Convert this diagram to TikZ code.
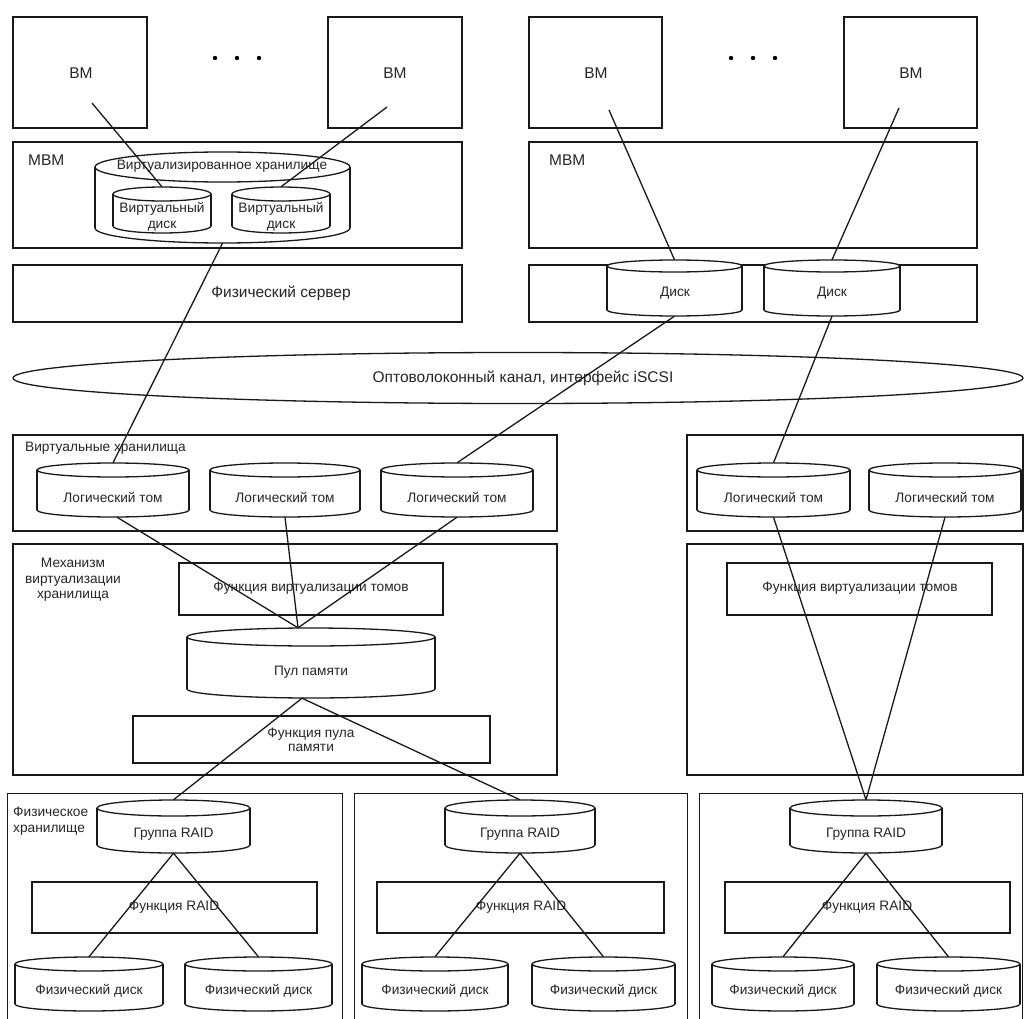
\documentclass[tikz,border=0pt]{standalone}
\usepackage{fontspec}
\setmainfont{Liberation Sans}
\usetikzlibrary{shapes.geometric,fit,calc}
\tikzset{
  ln/.style={line width=1.3pt, draw=black!90},
  boxn/.style={draw=black!90, line width=1.3pt, inner sep=0pt},
  lbl/.style={font=\fontsize{13.7}{15.5}\selectfont, align=center, inner sep=0pt, text=black!85},
  biglbl/.style={font=\fontsize{15.5}{17}\selectfont, inner sep=0pt, text=black!85},
}
% box: name, x1, y1, x2, y2
\newcommand\mybox[5]{\node[boxn, fit={(#2,#3) (#4,#5)}] (#1) {};}
% cylinder: name, x1, x2, ytop, ybot, ry, text
\newcommand\mycyl[7]{%
  \pgfmathsetmacro\cx{(#2+#3)/2}%
  \pgfmathsetmacro\rx{(#3-#2)/2}%
  \pgfmathsetmacro\yt{#4+#6}%
  \pgfmathsetmacro\yb{#5-#6}%
  \draw[ln, fill=white] (\cx,\yb) ellipse[x radius=\rx, y radius=#6];
  \fill[white] (#2,\yt) rectangle (#3,\yb);
  \draw[ln] (#2,\yt) -- (#2,\yb) (#3,\yt) -- (#3,\yb);
  \draw[ln, fill=white] (\cx,\yt) ellipse[x radius=\rx, y radius=#6];
  \node[inner sep=0pt, fit={(#2,#4) (#3,#5)}] (#1) {};
  \node[lbl] (#1-t) at (\cx,{(#4+2*#6+#5)/2}) {#7};
}
\begin{document}
\begin{tikzpicture}[x=1pt, y=-1pt]
\useasboundingbox (0,0) rectangle (1025,1019);
\fill[white] (0,0) rectangle (1025,1019);

% ---------- top left ----------
\mybox{vm1}{13}{17}{147}{128}
\node[biglbl] (vm1-t) at (81,73) {ВМ};
\mybox{vm2}{328}{17}{462}{128}
\node[biglbl] (vm2-t) at (395,73) {ВМ};
\fill (215,58) circle[radius=2.2] (237,58) circle[radius=2.2] (259,58) circle[radius=2.2];
\mybox{mbm1}{13}{142}{462}{248}
\node[biglbl, anchor=west] (mbm1-t) at (28,160) {МВМ};
\mybox{srv1}{13}{265}{462}{322}
\node[biglbl] (srv1-t) at (281,293) {Физический сервер};
\mycyl{vst}{95}{350}{152}{243}{15}{}
\node[lbl] (vst-t2) at (222,166) {Виртуализированное хранилище};
\mycyl{vd1}{113}{211}{187}{233}{7}{Виртуальный\\диск}
\mycyl{vd2}{232}{330}{187}{233}{7}{Виртуальный\\диск}

% ---------- top right ----------
\mybox{vm3}{529}{17}{662}{128}
\node[biglbl] (vm3-t) at (596,73) {ВМ};
\mybox{vm4}{844}{17}{977}{128}
\node[biglbl] (vm4-t) at (911,73) {ВМ};
\fill (731,58) circle[radius=2.2] (753,58) circle[radius=2.2] (775,58) circle[radius=2.2];
\mybox{mbm2}{529}{142}{977}{248}
\node[biglbl, anchor=west] (mbm2-t) at (549,160) {МВМ};
\mybox{srv2}{529}{265}{977}{322}
\mycyl{dk1}{607}{742}{260}{316}{6}{}
\node[lbl] (dk1-t2) at (675,293) {Диск};
\mycyl{dk2}{764}{900}{260}{316}{6}{}
\node[lbl] (dk2-t2) at (832,293) {Диск};

% ---------- channel ----------
\node[draw=black!90, line width=1.3pt, ellipse, minimum width=1010, minimum height=51, inner sep=0pt] (fc) at (518,378) {};
\node[biglbl] (fc-t) at (523,378) {Оптоволоконный канал, интерфейс iSCSI};

% ---------- middle left ----------
\mybox{vs1}{13}{435}{557}{531}
\node[lbl, anchor=west] (vs1-t) at (25,448) {Виртуальные хранилища};
\mycyl{lt1}{37}{189}{463}{517}{7}{Логический том}
\mycyl{lt2}{210}{360}{463}{517}{7}{Логический том}
\mycyl{lt3}{381}{533}{463}{517}{7}{Логический том}
\mybox{mech1}{13}{544}{557}{775}
\node[lbl] (mech1-t) at (73,580) {Механизм\\виртуализации\\хранилища};
\mybox{fv1}{179}{563}{443}{615}
\node[lbl] (fv1-t) at (311,588) {Функция виртуализации томов};
\mycyl{pool}{187}{435}{628}{698}{9}{Пул памяти}
\mybox{fp}{133}{716}{490}{763}
\node[lbl, font=\fontsize{13.7}{14}\selectfont] (fp-t) at (311,740) {Функция пула\\памяти};

% ---------- middle right ----------
\mybox{vs2}{687}{435}{1023}{531}
\mycyl{lt4}{697}{850}{463}{517}{7}{Логический том}
\mycyl{lt5}{869}{1021}{463}{517}{7}{Логический том}
\mybox{mech2}{687}{544}{1023}{775}
\mybox{fv2}{727}{563}{992}{615}
\node[lbl] (fv2-t) at (860,588) {Функция виртуализации томов};

% ---------- bottom ----------
\node[inner sep=0pt, fit={(8,794) (342,1019)}] (ps1) {};
\node[inner sep=0pt, fit={(355,794) (687,1019)}] (ps2) {};
\node[inner sep=0pt, fit={(700,794) (1022,1019)}] (ps3) {};
\foreach \p in {ps1,ps2,ps3}{
  \draw[ln] (\p.south west) -- (\p.north west) -- (\p.north east) -- (\p.south east);
}
\node[lbl, align=left, anchor=north west] (ps1-t) at (13,807) {Физическое\\хранилище};

\mycyl{rg1}{97}{250}{800}{853}{8}{Группа RAID}
\mycyl{rg2}{445}{595}{800}{853}{8}{Группа RAID}
\mycyl{rg3}{790}{942}{800}{853}{8}{Группа RAID}
\mybox{fr1}{32}{882}{317}{933}
\node[lbl] (fr1-t) at (174,907) {Функция RAID};
\mybox{fr2}{377}{882}{664}{933}
\node[lbl] (fr2-t) at (521,907) {Функция RAID};
\mybox{fr3}{725}{882}{1010}{933}
\node[lbl] (fr3-t) at (867,907) {Функция RAID};

\mycyl{pd1}{15}{163}{957}{1011}{7}{Физический диск}
\mycyl{pd2}{185}{332}{957}{1011}{7}{Физический диск}
\mycyl{pd3}{362}{508}{957}{1011}{7}{Физический диск}
\mycyl{pd4}{532}{675}{957}{1011}{7}{Физический диск}
\mycyl{pd5}{712}{854}{957}{1011}{7}{Физический диск}
\mycyl{pd6}{877}{1020}{957}{1011}{7}{Физический диск}

% ---------- connectors ----------
\coordinate (vm1p) at (92,103);
\coordinate (vm2p) at (387,107);
\coordinate (vm3p) at (609,110);
\coordinate (vm4p) at (899,108);
\draw[ln] (vm1p) -- (vd1.north);
\draw[ln] (vm2p) -- (vd2.north);
\draw[ln] (vm3p) -- (dk1.north);
\draw[ln] (vm4p) -- (dk2.north);
\draw[ln] (vst.south) -- (lt1.north);
\draw[ln] (dk1.south) -- (lt3.north);
\draw[ln] (dk2.south) -- (lt4.north);
\coordinate (pooltop) at ($(pool.north)+(-13,0)$);
\coordinate (poolbot) at ($(pool.south)+(-9,0)$);
\draw[ln] ($(lt1.south)+(4,0)$) -- (pooltop);
\draw[ln] (lt2.south) -- (pooltop);
\draw[ln] (lt3.south) -- (pooltop);
\draw[ln] (poolbot) -- (rg1.north);
\draw[ln] (poolbot) -- (rg2.north);
\draw[ln] (lt4.south) -- (rg3.north);
\draw[ln] (lt5.south) -- (rg3.north);
\draw[ln] (rg1.south) -- (pd1.north);
\draw[ln] (rg1.south) -- (pd2.north);
\draw[ln] (rg2.south) -- (pd3.north);
\draw[ln] (rg2.south) -- (pd4.north);
\draw[ln] (rg3.south) -- (pd5.north);
\draw[ln] (rg3.south) -- (pd6.north);
\end{tikzpicture}
\end{document}
